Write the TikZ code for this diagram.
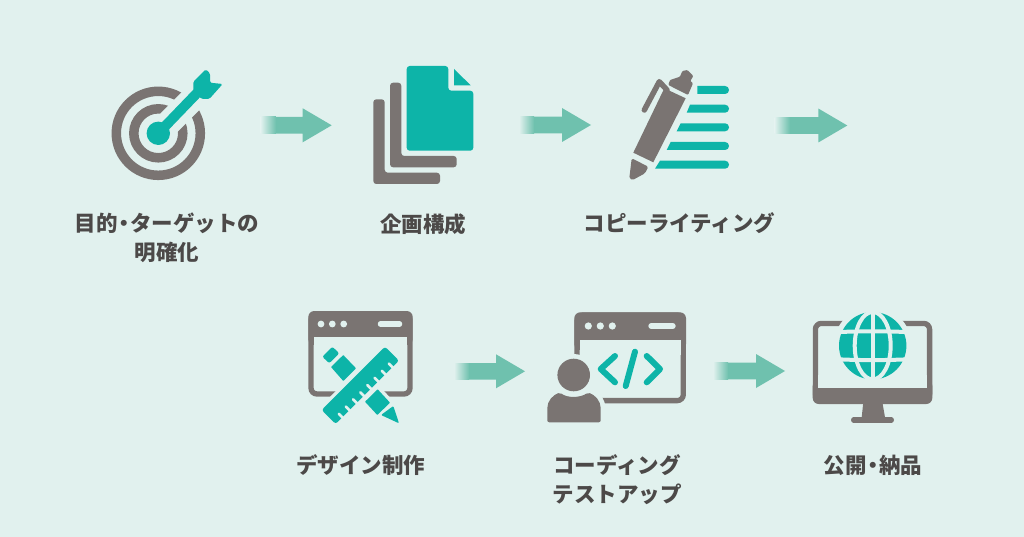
\documentclass[tikz,border=0pt]{standalone}
\usepackage{fontspec}
\usetikzlibrary{calc,shadings}
\newfontfamily\jpfont{Noto Sans CJK JP}
\definecolor{bgc}{HTML}{E1F1EE}
\definecolor{teal}{HTML}{0DB4A8}
\definecolor{gry}{HTML}{7A7472}
\definecolor{arrowc}{HTML}{6FC1AE}
\definecolor{txt}{HTML}{4C4948}
\tikzset{
  lbl/.style={text=txt,align=center,inner sep=0pt,font=\jpfont\bfseries\fontsize{21.5}{29}\selectfont},
  halo/.style={draw=bgc,fill=bgc,line width=7pt,line join=round},
  frame/.style={draw=gry,line width=5.3pt,fill=none,rounded corners=6pt},
  dot/.style={fill=bgc,draw=none},
  pill/.style={draw=bgc,line width=5.5pt,line cap=round},
}
\newcommand\fatarrow[2]{%
  \fill[arrowc] ($(#1)+(14,-8.3)$) -- ($(#2)+(-29,-8.3)$) -- ($(#2)+(-29,-17)$) -- (#2) -- ($(#2)+(-29,17)$) -- ($(#2)+(-29,8.3)$) -- ($(#1)+(14,8.3)$) -- cycle;
  \shade[left color=bgc,right color=arrowc] ($(#1)+(-1,-8.3)$) rectangle ($(#1)+(14.2,8.3)$);
}
\newcommand\textline[3]{% y, top-left x, bottom-left x
  \fill[teal] (#2,#1-4) [rounded corners=3.9pt] -- (729,#1-4) -- (729,#1+4) [sharp corners] -- (#3,#1+4) -- cycle;
}
\begin{document}
\begin{tikzpicture}[x=1pt,y=-1pt]
\useasboundingbox (0,0) rectangle (1024,537);
\fill[bgc] (0,0) rectangle (1024,537);

% ---- target
\coordinate (tc) at (158.3,133.3);
\draw[gry,line width=9.5pt] (tc) circle[radius=42pt];
\draw[gry,line width=9.5pt] (tc) circle[radius=24.5pt];
\draw[bgc,line width=25pt] (tc) -- ++(38,-38);
\fill[teal] (tc) circle[radius=11.7pt];
\draw[teal,line width=10pt] (tc) -- (200,90);
\fill[teal,rounded corners=1.5pt] (193.3,81.7) -- (205.7,69.3) -- (210,73.3) -- (210,82.7) -- (222.7,84) -- (209.3,99) -- (201.7,99) -- (193.3,90.7) -- cycle;

% ---- documents
\fill[gry,rounded corners=3pt] (373.3,99.3) -- (384.7,99.3) -- (384.7,172.7) -- (440,172.7) -- (440,184) -- (373.3,184) -- cycle;
\fill[gry,rounded corners=3pt] (390,82.7) -- (401.3,82.7) -- (401.3,156) -- (456.7,156) -- (456.7,167.3) -- (390,167.3) -- cycle;
\fill[teal,rounded corners=3pt] (406.7,66) -- (448.3,66) -- (448.3,90.7) -- (473.3,90.7) -- (473.3,150.7) -- (406.7,150.7) -- cycle;
\fill[teal] (454,69) -- (470.7,85.3) -- (454,85.3) -- cycle;

% ---- pen
\textline{90}{697.3}{697.3}
\textline{108.7}{690}{686.7}
\textline{127.3}{680.7}{676.7}
\textline{146}{670.7}{666.7}
\textline{164.7}{660}{655}
\fill[gry] (664.3,88.3) -- (685.7,98.3) -- (653.3,162.3) -- (633.3,152.7) -- cycle;
\fill[gry,rounded corners=1pt] (670,80) -- (680,76.7) -- (682.3,71) -- (687.3,70) -- (693.3,76) -- (690.3,81) -- (693,83.3) -- (688,95) -- (668.3,85) -- cycle;
\fill[gry,rounded corners=1.5pt] (631.7,158.3) -- (648.3,166.7) -- (645,173.3) -- (632.7,180) -- (629.3,178.3) -- cycle;
\draw[gry,line width=5.5pt,line cap=round,line join=round] (644.3,110) -- (659.3,81.7) -- (667,90);

% ---- design window
\draw[frame] (311,313.7) rectangle (410,394);
\fill[gry,rounded corners=6pt] (308.3,345) -- (308.3,311) -- (412.7,311) -- (412.7,345) -- cycle;
\fill[bgc] (313.65,336.7) rectangle (407.35,350);
\fill[dot] (321,324) circle[radius=3.4pt] (332.3,324) circle[radius=3.4pt] (343.7,324) circle[radius=3.4pt];
\draw[pill] (380.5,324) -- (399.5,324);
\draw[halo] (365,401.7) -- (377.7,389.3) -- (390,402.7) -- (377.3,415) -- cycle;
\draw[halo] (385,346.7) -- (399,360.7) -- (335.7,424) -- (321.7,410) -- cycle;
\fill[teal,rounded corners=2pt] (322.3,356.7) -- (332.3,346.7) -- (339.3,353.3) -- (329.3,363.3) -- cycle;
\fill[teal,rounded corners=.5pt] (331,367) -- (343.3,355) -- (356,368.3) -- (343.3,381) -- cycle;
\fill[teal,rounded corners=.5pt] (365,401.7) -- (377.7,389.3) -- (390,402.7) -- (377.3,415) -- cycle;
\fill[teal,rounded corners=1pt] (381,415) -- (393.3,406) -- (399,423.3) -- cycle;
\fill[teal,rounded corners=2.5pt] (385,346.7) -- (399,360.7) -- (335.7,424) -- (321.7,410) -- cycle;
\foreach \t in {19,40.5,62,83.5,105,126.5,148,169.5}
  \draw[bgc,line width=2.7pt,line cap=round] ({315+(63+\t)/3+1},{340+(251-\t)/3+1}) -- ++(-4.6,-4.6);

% ---- code window
\draw[frame] (577,315) rectangle (683.3,400.6);
\fill[gry,rounded corners=6pt] (574.3,350) -- (574.3,312.3) -- (686,312.3) -- (686,350) -- cycle;
\fill[bgc] (579.65,340) rectangle (680.65,355);
\fill[dot] (588.3,326) circle[radius=3.6pt] (600.3,326) circle[radius=3.6pt] (612.3,326) circle[radius=3.6pt];
\draw[pill,line width=6pt] (651.3,326) -- (672.7,326);
\draw[teal,line width=6pt,line cap=round,line join=round] (615,356) -- (600.7,369) -- (615,382.3);
\draw[teal,line width=6pt,line cap=round,line join=round] (646.7,356) -- (660,369) -- (646.7,382.3);
\draw[teal,line width=6pt,line cap=round] (635,351.7) -- (625.7,386);
\fill[bgc] (573.7,375) circle[radius=21pt];
\draw[draw=bgc,fill=bgc,line width=10pt,line join=round] (547.3,422.3) -- (547.3,410) .. controls (547.3,401) and (553,395) .. (560,392.5) .. controls (567,398) and (580,398) .. (588,392.5) .. controls (595,395) and (600.7,401) .. (600.7,410) -- (600.7,422.3) -- cycle;
\fill[gry] (573.7,375) circle[radius=16.3pt];
\fill[gry,rounded corners=2pt] (547.3,422.3) -- (547.3,410) .. controls (547.3,401) and (553,395) .. (560,392.5) .. controls (567,398) and (580,398) .. (588,392.5) .. controls (595,395) and (600.7,401) .. (600.7,410) -- (600.7,422.3) -- cycle;

% ---- monitor
\draw[frame] (815.4,323.4) rectangle (929.6,400);
\fill[gry,rounded corners=6pt] (812.7,380) -- (932.3,380) -- (932.3,404) -- (812.7,404) -- cycle;
\fill[bgc] (818.05,375) rectangle (926.95,387.7);
\fill[gry] (863.3,402) -- (882.3,402) -- (885,417.3) -- (861.7,417.3) -- cycle;
\draw[gry,line width=5.4pt,line cap=round] (853.7,420) -- (891.3,420);
\fill[bgc] (872.7,345.7) circle[radius=39pt];
\fill[teal] (872.7,345.7) circle[radius=33.7pt];
\draw[bgc,line width=4pt] (872.7,310) -- (872.7,381);
\draw[bgc,line width=4pt] (872.7,345.7) ellipse[x radius=18pt,y radius=33.7pt];
\draw[bgc,line width=4pt] (836,332.2) .. controls (860,331) and (885,331) .. (910,332.2);
\draw[bgc,line width=4pt] (836,359.2) .. controls (860,360.4) and (885,360.4) .. (910,359.2);

% ---- arrows
\coordinate (a1s) at (261.7,125.3); \coordinate (a1e) at (331.7,125.3);
\coordinate (a2s) at (520,125); \coordinate (a2e) at (591,125);
\coordinate (a3s) at (775.7,125.5); \coordinate (a3e) at (847.3,125.5);
\coordinate (a4s) at (455,371.3); \coordinate (a4e) at (525,371.3);
\coordinate (a5s) at (714,371); \coordinate (a5e) at (785,371);
\fatarrow{a1s}{a1e}
\fatarrow{a2s}{a2e}
\fatarrow{a3s}{a3e}
\fatarrow{a4s}{a4e}
\fatarrow{a5s}{a5e}

% ---- labels
\node[lbl] (l1) at (167,237.5) {目的\kern-.22em・\kern-.22emターゲットの\\明確化};
\node[lbl] (l2) at (423,224) {企画構成};
\node[lbl] (l3) at (679.5,223) {コピーライティング};
\node[lbl] (l4) at (360.5,465) {デザイン制作};
\node[lbl] (l5) at (617,479.5) {コーディング\\テストアップ};
\node[lbl] (l6) at (873,465) {公開\kern-.22em・\kern-.22em納品};
\end{tikzpicture}
\end{document}
